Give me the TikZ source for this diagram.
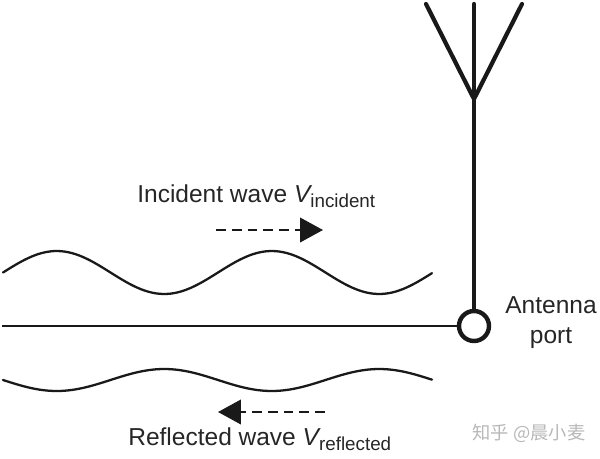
\documentclass[tikz,border=0pt]{standalone}
\usepackage{fontspec}
\setmainfont{Liberation Sans}
\newfontfamily\cjk{Noto Sans CJK SC}
\usetikzlibrary{arrows.meta}
\usetikzlibrary{positioning}
\newcommand{\wavesub}[1]{\raisebox{-0.42ex}{\fontsize{10.7}{12}\selectfont #1}}
\tikzset{
	label text/.style={inner sep=0pt, font=\fontsize{13.95}{17}\selectfont, text=black!85},
	mast line/.style={line width=2.4pt, black!90, line cap=round},
	wave line/.style={line width=1.3pt, black!90, line cap=round},
	wave arrow/.style={line width=1.4pt, black!90, dash pattern=on 5.6pt off 3.4pt, -{Triangle[length=0.46cm, width=0.49cm]}},
	port circle/.style={circle, draw=black!90, line width=2.5pt, fill=white, minimum size=0.6cm, inner sep=0pt}
}

\begin{document}
\begin{tikzpicture}[x=0.02cm, y=-0.02cm]
		\useasboundingbox (0,0) rectangle (600,458);
		% antenna
		\coordinate (feed) at (474,99);
		\coordinate (tipleft) at (426,4);
		\coordinate (tipmid) at (474,4);
		\coordinate (tipright) at (522,4);
		\node[port circle] (port) at (474,326) {};
		\coordinate (lineend) at (2,326);
		\draw[mast line] (tipleft) -- (feed) -- (tipright); %% outer arms
		\draw[mast line] (tipmid) -- (port); %% mast
		\draw[line width=1.6pt, black!90] (lineend) -- (port); %% feed line
		% waves
		\draw[wave line] plot [smooth, samples=60, domain=3:432] (\x, {272.5-21.5*sin((\x-3)*1.6744)}); %% incident
		\draw[wave line] plot [smooth, samples=60, domain=3:432] (\x, {380+11*sin((\x-3)*1.6744)}); %% reflected
		% arrows
		\coordinate (incstart) at (216,230);
		\coordinate (incend) at (323,230);
		\coordinate (refstart) at (325,412);
		\coordinate (refend) at (218,412);
		\draw[wave arrow] (incstart) -- (incend);
		\draw[wave arrow] (refstart) -- (refend);
		% labels
		\node[label text, anchor=base west] (incident) at (137,202) {Incident wave {\itshape V}\wavesub{incident}};
		\node[label text, anchor=base west] (reflected) at (128,445) {Reflected wave {\itshape V}\wavesub{reflected}};
		\node[label text, align=center, anchor=base] (portlabel) at (551,343) {Antenna\\port};
		\node[inner sep=0pt, text=black!28, font=\cjk\fontsize{10.4}{12}\selectfont] (mark) at (529,433) {知乎 @晨小麦};
	\end{tikzpicture}
\end{document}
